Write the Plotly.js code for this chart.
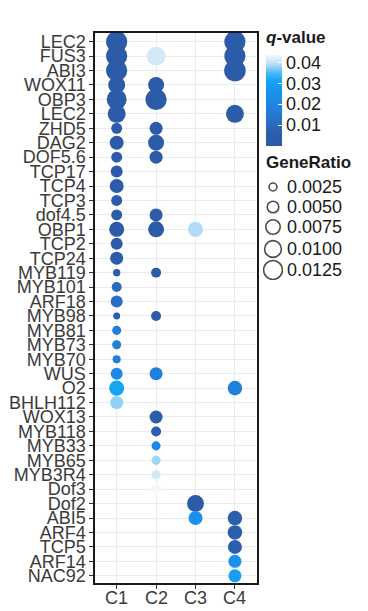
<!DOCTYPE html>
<html>
<head>
<meta charset="utf-8">
<script src="https://cdn.plot.ly/plotly-3.0.1.min.js"></script>
<style>html,body{margin:0;padding:0;background:#fff;}#chart{width:368px;height:611px;}</style>
</head>
<body>
<div id="chart"></div>
<script>
// ---- data ----
const genes = ["LEC2","FUS3","ABI3","WOX11","OBP3","LEC2","ZHD5","DAG2","DOF5.6","TCP17",
  "TCP4","TCP3","dof4.5","OBP1","TCP2","TCP24","MYB119","MYB101","ARF18","MYB98",
  "MYB81","MYB73","MYB70","WUS","O2","BHLH112","WOX13","MYB118","MYB33","MYB65",
  "MYB3R4","Dof3","Dof2","ABI5","ARF4","TCP5","ARF14","NAC92"];
const clusters = ["C1","C2","C3","C4"];

// GeneRatio per cluster (null = no dot)
const ratioC1 = [0.0155,0.0155,0.0155,0.0102,0.0139,0.0114,0.0045,0.0071,0.0045,0.0053,
  0.0071,0.0045,0.0045,0.0081,0.0053,0.0062,0.0022,0.0038,0.0053,0.0020,
  0.0032,0.0032,0.0026,0.0053,0.0081,0.0062,null,null,null,null,
  null,null,null,null,null,null,null,null];
const ratioC2 = [null,0.0126,null,0.0091,0.0155,null,0.0062,0.0091,0.0062,null,
  null,null,0.0062,0.0091,null,null,0.0038,null,null,0.0038,
  null,null,null,0.0062,null,null,0.0062,0.0038,0.0032,0.0032,
  0.0032,0.0032,null,null,null,null,null,null];
const ratioC3 = [null,null,null,null,null,null,null,null,null,null,
  null,null,null,0.0081,null,null,null,null,null,null,
  null,null,null,null,null,null,null,null,null,null,
  null,null,0.0102,0.0071,null,null,null,null];
const ratioC4 = [0.0155,0.0155,0.0160,null,null,0.0114,null,null,null,null,
  null,null,null,null,null,null,null,null,null,null,
  null,null,null,null,0.0076,null,null,null,null,null,
  null,null,null,0.0076,0.0076,0.0071,0.0062,0.0062];

// q-value per cluster
const qC1 = [0.003,0.003,0.003,0.003,0.003,0.003,0.003,0.003,0.003,0.003,
  0.003,0.003,0.003,0.003,0.003,0.003,0.004,0.011,0.012,0.007,
  0.017,0.017,0.0175,0.0205,0.031,0.0376,null,null,null,null,
  null,null,null,null,null,null,null,null];
const qC2 = [null,0.041,null,0.003,0.003,null,0.003,0.003,0.003,null,
  null,null,0.003,0.003,null,null,0.004,null,null,0.004,
  null,null,null,0.018,null,null,0.004,0.006,0.021,0.038,
  0.041,0.0435,null,null,null,null,null,null];
const qC3 = [null,null,null,null,null,null,null,null,null,null,
  null,null,null,0.039,null,null,null,null,null,null,
  null,null,null,null,null,null,null,null,null,null,
  null,null,0.003,0.025,null,null,null,null];
const qC4 = [0.003,0.003,0.003,null,null,0.004,null,null,null,null,
  null,null,null,null,null,null,null,null,null,null,
  null,null,null,null,0.018,null,null,null,null,null,
  null,null,null,0.005,0.005,0.005,0.026,0.030];

// size legend values
const legendRatios = [0.0025,0.0050,0.0075,0.0100,0.0125];
const legendLabels = ["0.0025","0.0050","0.0075","0.0100","0.0125"];
const qTicks = [0.01,0.02,0.03,0.04];

// ---- build ----
const sizeFn = r => 178*Math.sqrt(r) - 1;
const ratios = [ratioC1, ratioC2, ratioC3, ratioC4];
const qs = [qC1, qC2, qC3, qC4];
const X=[],Y=[],S=[],C=[],T=[];
for (let c=0;c<4;c++){
  for (let i=0;i<genes.length;i++){
    if (ratios[c][i]!==null){
      X.push(c); Y.push(i); S.push(sizeFn(ratios[c][i])); C.push(qs[c][i]);
      T.push(genes[i]+" / "+clusters[c]);
    }
  }
}
const colorscale = [[0,'#2c5aa5'],[0.15,'#2b5fae'],[0.25,'#2a6bc0'],[0.45,'#1e86e4'],
  [0.62,'#1a93f0'],[0.72,'#14a6f5'],[0.8,'#4bb8f5'],[0.88,'#a5d6f5'],[0.94,'#d2e8f8'],[1,'#f4f8fc']];

const font = "Liberation Sans, Arial, sans-serif";
const W = 273, plotW = 162, H0 = 583, PH = 550;
const px = v => (v-95)/W;
const py = v => (H0-v)/PH;

const main = {
  type:'scatter', mode:'markers', x:X, y:Y, text:T, hoverinfo:'text',
  marker:{size:S, sizemode:'diameter', color:C, cmin:0, cmax:0.0435, colorscale:colorscale,
    line:{width:0}, opacity:1,
    showscale:true,
    colorbar:{x:px(266), xanchor:'left', xpad:0, y:py(100.5), yanchor:'middle', ypad:0,
      thickness:16, thicknessmode:'pixels', len:91, lenmode:'pixels',
      outlinewidth:0, tickvals:qTicks, ticktext:qTicks.map(v=>v.toFixed(2)),
      ticks:'inside', ticklen:4, tickcolor:'#ffffff', tickwidth:1,
      tickfont:{family:font, size:18, color:'#1a1a1a'}}
  },
  showlegend:false, xaxis:'x', yaxis:'y'
};

const legendY = [187,207,227,249,270];
const sizeLegend = {
  type:'scatter', mode:'markers', x:legendRatios.map(()=>0), y:legendY,
  marker:{symbol:'circle-open', size:legendRatios.map(sizeFn), color:'#000', line:{width:1.6, color:'#000'}},
  hoverinfo:'skip', showlegend:false, xaxis:'x2', yaxis:'y2'
};

const annotations = [
  {text:'<b><i>q</i>-value</b>', x:px(264), y:py(38), xref:'paper', yref:'paper', xanchor:'left', yanchor:'middle',
   showarrow:false, font:{family:font, size:17, color:'#1a1a1a'}},
  {text:'<b>GeneRatio</b>', x:px(264), y:py(163), xref:'paper', yref:'paper', xanchor:'left', yanchor:'middle',
   showarrow:false, font:{family:font, size:17, color:'#1a1a1a'}}
];
legendLabels.forEach((l,i)=>annotations.push({text:l, x:px(285), y:legendY[i], xref:'paper', yref:'y2',
  xanchor:'left', yanchor:'middle', showarrow:false, font:{family:font, size:18, color:'#1a1a1a'}}));
// x-axis category labels
clusters.forEach((c,i)=>annotations.push({text:c, x:i, y:py(598), xref:'x', yref:'paper',
  xanchor:'center', yanchor:'middle', showarrow:false, font:{family:font, size:18, color:'#3a3a3a'}}));

const layout = {
  width:368, height:611, margin:{l:95, r:0, t:33, b:28},
  paper_bgcolor:'#fff', plot_bgcolor:'#fff',
  font:{family:font},
  xaxis:{domain:[0, plotW/W], range:[-0.55,3.56], tickvals:[0,1,2,3], ticktext:clusters,
    showticklabels:false,
    showgrid:true, gridcolor:'#ebebeb', gridwidth:1, zeroline:false,
    showline:true, mirror:true, linecolor:'#1a1a1a', linewidth:1.6,
    ticks:'outside', ticklen:4, tickcolor:'#333', tickwidth:1},
  yaxis:{range:[37.5,-0.6], tickvals:genes.map((g,i)=>i), ticktext:genes,
    showgrid:true, gridcolor:'#ebebeb', gridwidth:1, zeroline:false,
    showline:true, mirror:true, linecolor:'#1a1a1a', linewidth:1.6,
    ticks:'outside', ticklen:4, tickcolor:'#333', tickwidth:1,
    tickfont:{family:font, size:18, color:'#3a3a3a'}},
  xaxis2:{domain:[px(263), px(283)], range:[-1,1], visible:false, fixedrange:true, anchor:'y2'},
  yaxis2:{domain:[py(280), py(177)], range:[280,177], visible:false, fixedrange:true, anchor:'x2'},
  annotations:annotations
};

Plotly.newPlot('chart', [main, sizeLegend], layout, {displayModeBar:false, staticPlot:true});
</script>
</body>
</html>
